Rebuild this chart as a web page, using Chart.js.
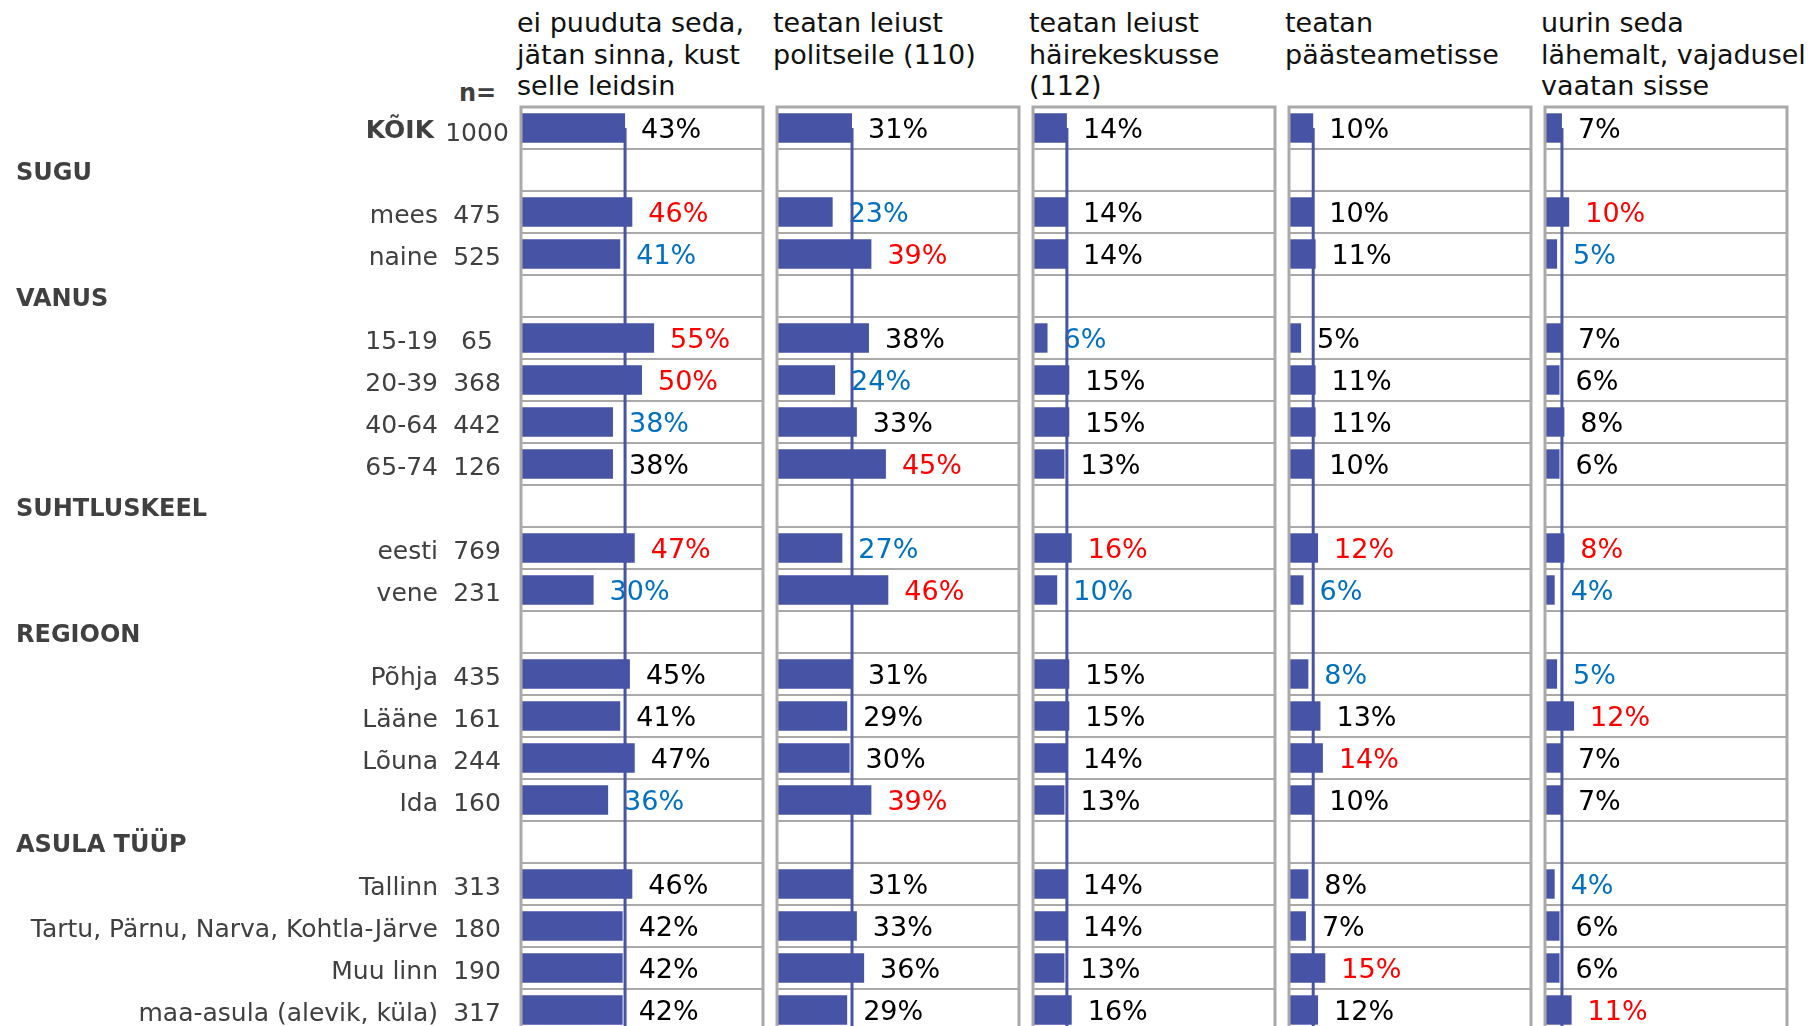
<!DOCTYPE html>
<html>
<head>
<meta charset="utf-8">
<script src="https://cdn.jsdelivr.net/npm/chart.js@4"></script>
<style>
  html, body { margin: 0; padding: 0; background: #fff; overflow: hidden; }
  #wrap { position: relative; width: 1808px; height: 1026px; overflow: hidden; }
  canvas { position: absolute; top: 0; }
  .head { position: absolute; top: 7px; font: 27px "DejaVu Sans", Verdana, sans-serif; line-height: 31.5px; color: #111; white-space: pre; }
  .neq { position: absolute; font: bold 24px "DejaVu Sans", Verdana, sans-serif; color: #404040; }
</style>
</head>
<body>
<div id="wrap">
  <div class="neq" style="left:459px; top:79px;">n=</div>
</div>
<script>
// rows
const rowLabels = ["KÕIK", "SUGU", "mees", "naine", "VANUS", "15-19", "20-39", "40-64", "65-74",
  "SUHTLUSKEEL", "eesti", "vene", "REGIOON", "Põhja", "Lääne", "Lõuna", "Ida",
  "ASULA TÜÜP", "Tallinn", "Tartu, Pärnu, Narva, Kohtla-Järve", "Muu linn", "maa-asula (alevik, küla)"];
const rowN = [1000, null, 475, 525, null, 65, 368, 442, 126, null, 769, 231, null, 435, 161, 244, 160, null, 313, 180, 190, 317];

// answers, % (null = group header row)
const leaveIt   = [43, null, 46, 41, null, 55, 50, 38, 38, null, 47, 30, null, 45, 41, 47, 36, null, 46, 42, 42, 42];
const police    = [31, null, 23, 39, null, 38, 24, 33, 45, null, 27, 46, null, 31, 29, 30, 39, null, 31, 33, 36, 29];
const emergency = [14, null, 14, 14, null, 6, 15, 15, 13, null, 16, 10, null, 15, 15, 14, 13, null, 14, 14, 13, 16];
const rescue    = [10, null, 10, 11, null, 5, 11, 11, 10, null, 12, 6, null, 8, 13, 14, 10, null, 8, 7, 15, 12];
const inspect   = [7, null, 10, 5, null, 7, 6, 8, 6, null, 8, 4, null, 5, 12, 7, 7, null, 4, 6, 6, 11];

// difference from total: 1 higher, -1 lower, 0 none
const leaveItSig   = [0, null, 1, -1, null, 1, 1, -1, 0, null, 1, -1, null, 0, 0, 0, -1, null, 0, 0, 0, 0];
const policeSig    = [0, null, -1, 1, null, 0, -1, 0, 1, null, -1, 1, null, 0, 0, 0, 1, null, 0, 0, 0, 0];
const emergencySig = [0, null, 0, 0, null, -1, 0, 0, 0, null, 1, -1, null, 0, 0, 0, 0, null, 0, 0, 0, 0];
const rescueSig    = [0, null, 0, 0, null, 0, 0, 0, 0, null, 1, -1, null, -1, 0, 1, 0, null, 0, 0, 1, 0];
const inspectSig   = [0, null, 1, -1, null, 0, 0, 0, 0, null, 1, -1, null, -1, 1, 0, 0, null, -1, 0, 0, 1];

const headers = [
  ["ei puuduta seda,", "jätan sinna, kust", "selle leidsin"],
  ["teatan leiust", "politseile (110)"],
  ["teatan leiust", "häirekeskusse", "(112)"],
  ["teatan", "päästeametisse"],
  ["uurin seda", "lähemalt, vajadusel", "vaatan sisse"]
];

const panels = [
  { values: leaveIt, sig: leaveItSig },
  { values: police, sig: policeSig },
  { values: emergency, sig: emergencySig },
  { values: rescue, sig: rescueSig },
  { values: inspect, sig: inspectSig }
];

const FONT = '"DejaVu Sans", Verdana, sans-serif';
const BAR = "#4753a5";
const GRID = "#a9a9a9";
const panelLeft = [521, 777, 1033, 1289, 1545];
const panelWidth = 242;
const canvasH = 107 + 22 * 42 + 4;

const valueLabels = {
  id: "valueLabels",
  afterDatasetsDraw(chart, args, opts) {
    const ctx = chart.ctx;
    const meta = chart.getDatasetMeta(0);
    const x = chart.scales.x;
    ctx.save();
    ctx.font = "27px " + FONT;
    ctx.textAlign = "left";
    ctx.textBaseline = "middle";
    meta.data.forEach((bar, i) => {
      const v = opts.values[i];
      if (v == null) return;
      const s = opts.sig[i];
      ctx.fillStyle = s > 0 ? "#ff0000" : s < 0 ? "#0070c0" : "#000";
      ctx.fillText(v + "%", x.getPixelForValue(v) + 16, bar.y + 3);
    });
    // line for the total
    const lx = x.getPixelForValue(opts.values[0]);
    ctx.strokeStyle = BAR;
    ctx.lineWidth = 3;
    ctx.beginPath();
    ctx.moveTo(lx, meta.data[0].y);
    ctx.lineTo(lx, chart.chartArea.bottom);
    ctx.stroke();
    // panel frame
    const a = chart.chartArea;
    ctx.strokeStyle = GRID;
    ctx.lineWidth = 3;
    ctx.strokeRect(a.left, a.top, a.right - a.left, a.bottom - a.top);
    ctx.restore();
  }
};

const rowNames = {
  id: "rowNames",
  afterDraw(chart) {
    const ctx = chart.ctx;
    const y = chart.scales.y;
    ctx.save();
    ctx.textBaseline = "middle";
    ctx.fillStyle = "#404040";
    rowLabels.forEach((lab, i) => {
      const py = y.getPixelForValue(i) + 4;
      if (rowN[i] == null) {
        ctx.font = "bold 24px " + FONT;
        ctx.textAlign = "left";
        ctx.fillText(lab, 16, py);
        return;
      }
      ctx.font = (i === 0 ? "bold 25px " : "25px ") + FONT;
      ctx.textAlign = "right";
      ctx.fillText(lab, i === 0 ? 434 : 438, py - (i === 0 ? 1 : 0));
      ctx.font = "25px " + FONT;
      ctx.textAlign = "center";
      ctx.fillText(String(rowN[i]), 477, py + (i === 0 ? 2 : 0));
    });
    ctx.restore();
  }
};

const wrap = document.getElementById("wrap");

panels.forEach((p, k) => {
  const h = document.createElement("div");
  h.className = "head";
  h.style.left = (panelLeft[k] - 4) + "px";
  h.textContent = headers[k].join("\n");
  wrap.appendChild(h);

  const cv = document.createElement("canvas");
  const first = k === 0;
  const left = first ? 0 : panelLeft[k] - 4;
  const padLeft = first ? panelLeft[0] : 4;
  cv.width = padLeft + panelWidth + 4;
  cv.height = canvasH;
  cv.style.left = left + "px";
  wrap.appendChild(cv);

  new Chart(cv, {
    type: "bar",
    data: {
      labels: rowLabels,
      datasets: [{
        data: p.values,
        backgroundColor: BAR,
        borderWidth: 0,
        categoryPercentage: 1,
        barPercentage: 0.7
      }]
    },
    options: {
      indexAxis: "y",
      responsive: false,
      animation: false,
      layout: { padding: { left: padLeft, right: 4, top: 107, bottom: 4 } },
      scales: {
        x: { display: false, min: 0, max: 100 },
        y: {
          display: true,
          ticks: { display: false },
          grid: { color: GRID, lineWidth: 2, drawTicks: false, offset: true },
          border: { display: false }
        }
      },
      plugins: {
        legend: { display: false },
        tooltip: { enabled: false },
        valueLabels: { values: p.values, sig: p.sig }
      }
    },
    plugins: first ? [valueLabels, rowNames] : [valueLabels]
  });
});
</script>
</body>
</html>
